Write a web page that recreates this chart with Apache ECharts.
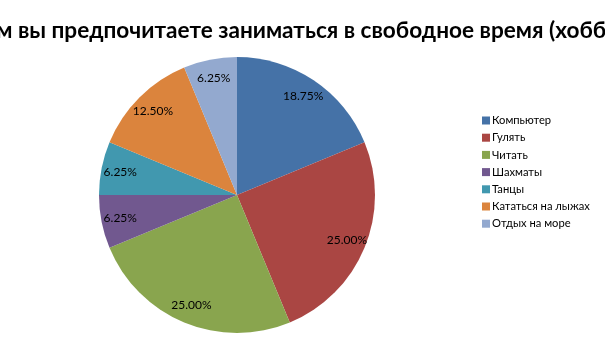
<!DOCTYPE html>
<html><head><meta charset="utf-8">
<script src="https://cdn.jsdelivr.net/npm/echarts@6/dist/echarts.min.js"></script>
<style>html,body{margin:0;padding:0;background:#fff}#c{width:605px;height:340px}</style>
</head><body><div id="c"></div>
<script>
const titleText = 'Чем вы предпочитаете заниматься в свободное время (хобби)?';
const categories = ['Компьютер','Гулять','Читать','Шахматы','Танцы','Кататься на лыжах','Отдых на море'];
const values = [18.75, 25.00, 25.00, 6.25, 6.25, 12.50, 6.25];
const colors = ['#4572A7','#AA4643','#89A54E','#71588F','#4198AF','#DB843D','#93A9CF'];

const data = categories.map((n,i)=>({name:n, value:values[i], itemStyle:{color:colors[i]}}));
const chart = echarts.init(document.getElementById('c'));
chart.setOption({
  animation:false,
  title:{text:titleText, left:'center', top:14, textStyle:{fontFamily:'Lato', fontWeight:'bold', fontSize:22.6, color:'#000'}},
  legend:{orient:'vertical', left:477, top:110, itemWidth:8, itemHeight:8, itemGap:6.2, icon:'rect',
    textStyle:{fontFamily:'Lato', fontSize:11.2, color:'#000', padding:[0,0,0,-3]},
    data:categories},
  series:[
    {type:'pie', center:[237,195], radius:[0,138], startAngle:90, clockwise:true, silent:true,
     label:{show:false}, labelLine:{show:false}, data:data},
    {type:'pie', center:[237,195], radius:[94,138], startAngle:90, clockwise:true, silent:true,
     legendHoverLink:false,
     itemStyle:{color:'rgba(0,0,0,0)'},
     label:{show:true, position:'inside', formatter:p=>p.value.toFixed(2)+'%', fontFamily:'Lato', fontSize:12, color:'#000'},
     labelLine:{show:false},
     data:categories.map((n,i)=>({name:n+' ', value:values[i]}))}
  ]
});
</script></body></html>
